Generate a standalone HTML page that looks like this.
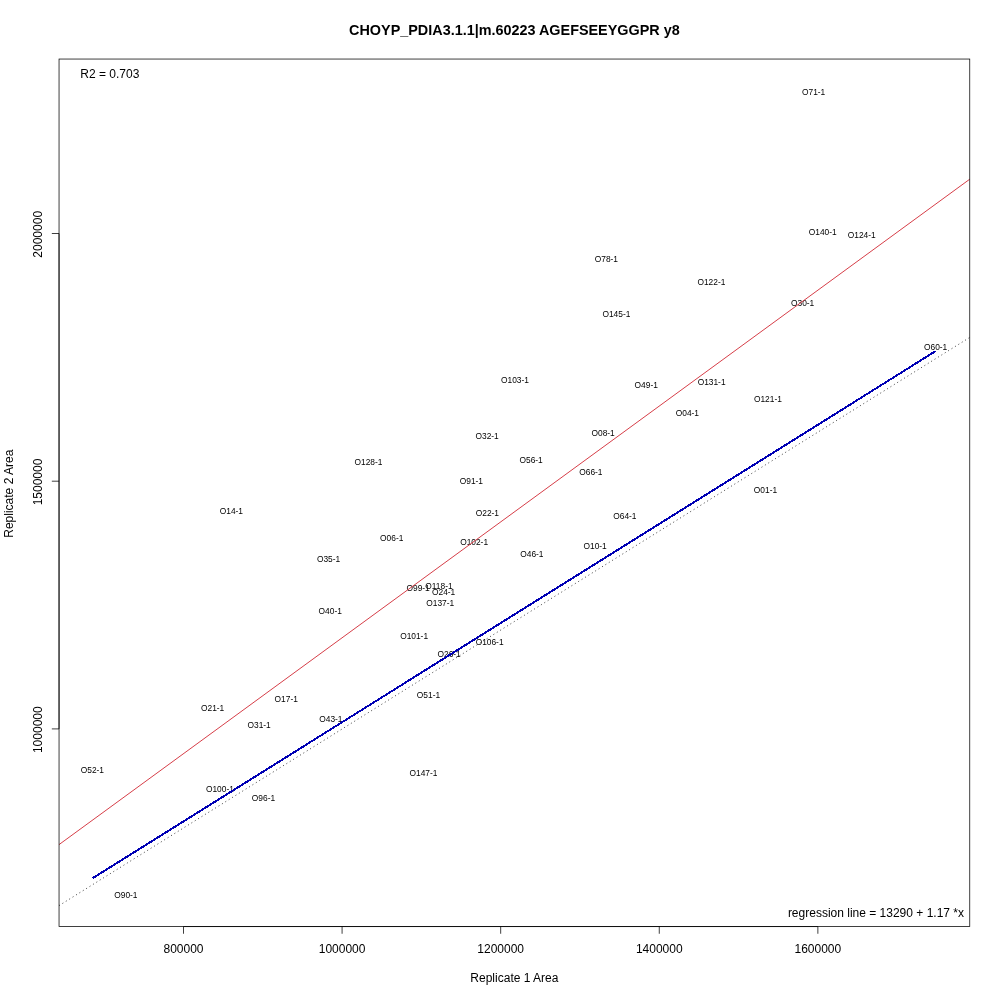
<!DOCTYPE html>
<html lang="en">
<head>
<meta charset="utf-8">
<title>CHOYP_PDIA3.1.1|m.60223 AGEFSEEYGGPR y8</title>
<style>
html,body{margin:0;padding:0;background:#fff;}
body{width:1000px;height:1000px;overflow:hidden;}
svg{display:block;}
text{font-family:"Liberation Sans",sans-serif;fill:#000;}
.t12{font-size:12px;}
.lab{font-size:8.4px;text-anchor:middle;}
.ttl{font-size:14.4px;font-weight:bold;text-anchor:middle;}
</style>
</head>
<body>
<svg width="1000" height="1000" viewBox="0 0 1000 1000">
<rect x="0" y="0" width="1000" height="1000" fill="#ffffff"/>

<text class="ttl" x="514.4" y="34.9">CHOYP_PDIA3.1.1|m.60223 AGEFSEEYGGPR y8</text>
<text class="t12" text-anchor="middle" x="183.5" y="952.6">800000</text>
<text class="t12" text-anchor="middle" x="342.09" y="952.6">1000000</text>
<text class="t12" text-anchor="middle" x="500.68" y="952.6">1200000</text>
<text class="t12" text-anchor="middle" x="659.28" y="952.6">1400000</text>
<text class="t12" text-anchor="middle" x="817.87" y="952.6">1600000</text>
<text class="t12" text-anchor="middle" transform="translate(42.0 234.3) rotate(-90)">2000000</text>
<text class="t12" text-anchor="middle" transform="translate(42.0 482.0) rotate(-90)">1500000</text>
<text class="t12" text-anchor="middle" transform="translate(42.0 729.7) rotate(-90)">1000000</text>
<text class="t12" text-anchor="middle" x="514.4" y="981.9">Replicate 1 Area</text>
<text class="t12" text-anchor="middle" transform="translate(13.0 493.7) rotate(-90)">Replicate 2 Area</text>
<text class="t12" x="80.3" y="77.8">R2 = 0.703</text>
<text class="t12" text-anchor="end" x="964.0" y="916.6">regression line = 13290 + 1.17 *x</text>
<g class="lab">
<text x="813.60" y="95.00">O71-1</text>
<text x="822.75" y="235.00">O140-1</text>
<text x="861.75" y="238.00">O124-1</text>
<text x="802.60" y="305.90">O30-1</text>
<text x="606.40" y="262.10">O78-1</text>
<text x="711.40" y="284.90">O122-1</text>
<text x="616.40" y="317.10">O145-1</text>
<text x="646.20" y="388.10">O49-1</text>
<text x="711.60" y="385.10">O131-1</text>
<text x="767.90" y="402.10">O121-1</text>
<text x="687.40" y="416.10">O04-1</text>
<text x="603.10" y="436.00">O08-1</text>
<text x="515.00" y="383.10">O103-1</text>
<text x="487.10" y="439.10">O32-1</text>
<text x="531.10" y="463.10">O56-1</text>
<text x="590.90" y="475.10">O66-1</text>
<text x="471.40" y="484.10">O91-1</text>
<text x="487.40" y="516.10">O22-1</text>
<text x="624.90" y="519.10">O64-1</text>
<text x="474.10" y="545.10">O102-1</text>
<text x="595.10" y="549.10">O10-1</text>
<text x="531.90" y="557.10">O46-1</text>
<text x="438.95" y="588.90">O118-1</text>
<text x="443.60" y="595.10">O24-1</text>
<text x="391.70" y="541.10">O06-1</text>
<text x="328.55" y="562.10">O35-1</text>
<text x="418.10" y="591.10">O99-1</text>
<text x="440.25" y="605.90">O137-1</text>
<text x="330.25" y="614.00">O40-1</text>
<text x="414.10" y="639.10">O101-1</text>
<text x="489.60" y="645.10">O106-1</text>
<text x="449.10" y="656.90">O26-1</text>
<text x="428.50" y="697.90">O51-1</text>
<text x="330.90" y="722.10">O43-1</text>
<text x="286.25" y="702.10">O17-1</text>
<text x="212.60" y="710.90">O21-1</text>
<text x="259.10" y="728.10">O31-1</text>
<text x="92.40" y="772.90">O52-1</text>
<text x="219.90" y="792.10">O100-1</text>
<text x="263.50" y="800.90">O96-1</text>
<text x="125.90" y="898.10">O90-1</text>
<text x="368.50" y="465.00">O128-1</text>
<text x="231.40" y="514.10">O14-1</text>
<text x="423.50" y="776.25">O147-1</text>
<text x="765.50" y="493.10">O01-1</text>
<text x="935.60" y="350.20">O60-1</text>
</g>
<g fill="none">
<line x1="59.04" y1="844.6" x2="969.76" y2="179.2" stroke="#d63e48" stroke-width="1"/>
<line x1="59.04" y1="905.6" x2="969.76" y2="337.4" stroke="#2a2a2a" stroke-width="0.9" stroke-dasharray="1 3"/>
<line x1="92.6" y1="878.2" x2="935.8" y2="351.0" stroke="#0000b4" stroke-width="2" shape-rendering="crispEdges"/>
<g stroke="#000" stroke-width="0.75">
<rect x="59.04" y="59.04" width="910.72" height="867.52"/>
<path d="M183.5 926.56H817.87"/>
<path d="M183.5 926.56v7.2"/>
<path d="M342.09 926.56v7.2"/>
<path d="M500.68 926.56v7.2"/>
<path d="M659.28 926.56v7.2"/>
<path d="M817.87 926.56v7.2"/>
<path d="M59.04 233.5V728.9"/>
<path d="M59.04 233.5h-7.2"/>
<path d="M59.04 481.2h-7.2"/>
<path d="M59.04 728.9h-7.2"/>
</g>
</g>
</svg>
</body>
</html>
